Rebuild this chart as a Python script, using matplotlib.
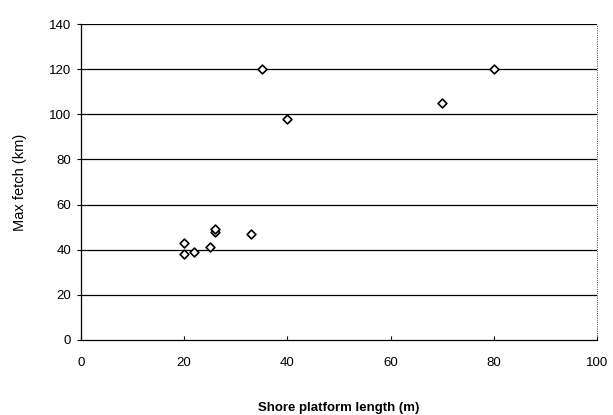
import matplotlib
matplotlib.use("Agg")
import matplotlib.pyplot as plt

# shore platform length (m) vs max fetch (km)
platform_length = [20, 20, 22, 25, 26, 26, 33, 35, 40, 70, 80]
max_fetch = [43, 38, 39, 41, 48, 49, 47, 120, 98, 105, 120]

x_ticks = [0, 20, 40, 60, 80, 100]
y_ticks = [0, 20, 40, 60, 80, 100, 120, 140]

plt.rcParams['font.family'] = ['Liberation Sans', 'DejaVu Sans']

fig = plt.figure(figsize=(6.13, 4.15), dpi=100)
ax = fig.add_axes([0.132, 0.181, 0.842, 0.761])

for y in y_ticks[1:]:
  ax.axhline(y, color='black', lw=0.9, zorder=1)

ax.scatter(platform_length, max_fetch, marker='D', s=20, facecolors='white',
           edgecolors='black', linewidths=1.2, zorder=3)

ax.set_xlim(0, 100)
ax.set_ylim(0, 140)
ax.set_xticks(x_ticks)
ax.set_yticks(y_ticks)
ax.tick_params(axis='both', labelsize=9.5, length=3, width=0.8)
ax.tick_params(axis='x', direction='in', pad=12)
ax.tick_params(axis='y', direction='out', pad=4)

for side in ['top', 'right']:
  ax.spines[side].set_visible(False)
ax.spines['left'].set_linewidth(0.9)
ax.spines['bottom'].set_linewidth(0.9)
ax.plot([1, 1], [0, 1], transform=ax.transAxes, color='black', lw=0.6,
        ls=':', clip_on=False)

ax.set_xlabel('Shore platform length (m)', fontsize=9.5, fontweight='bold',
              labelpad=24)
ax.set_ylabel('Max fetch (km)', fontsize=10.5, labelpad=16)

fig.savefig('out.png', dpi=100)
